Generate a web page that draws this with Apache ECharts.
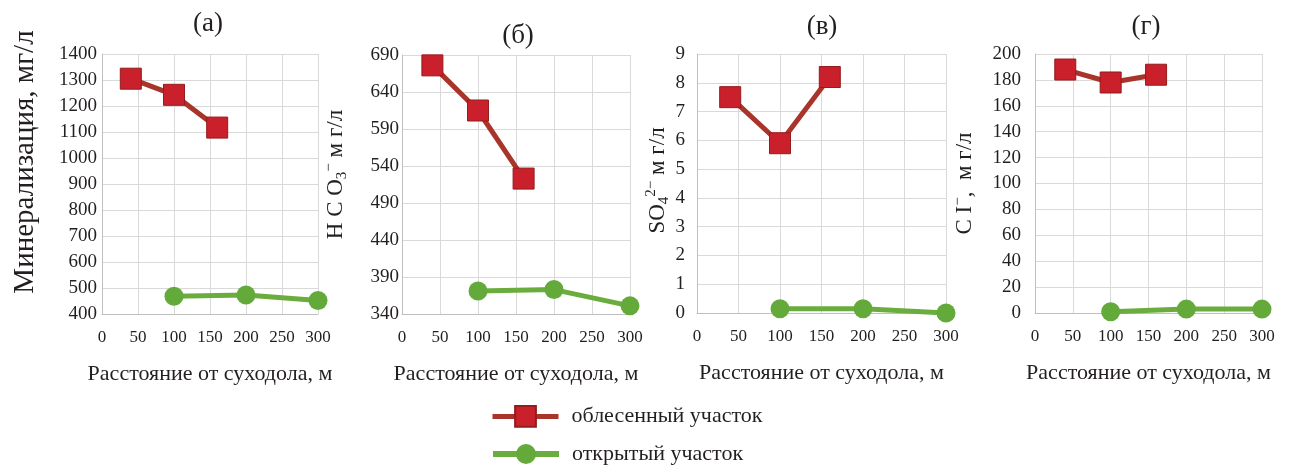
<!DOCTYPE html>
<html>
<head>
<meta charset="utf-8">
<script src="https://cdn.jsdelivr.net/npm/echarts@6/dist/echarts.min.js"></script>
<style>
  html, body { margin: 0; padding: 0; background: #ffffff; }
  #chart { width: 1295px; height: 467px; }
</style>
</head>
<body>
<div id="chart"></div>
<script>
// Distance from the dry valley (m) for each site type
const distForest = [40, 100, 160];
const distOpen = [100, 200, 300];

// (а) total mineralization, mg/l
const mineralForest = [1305, 1243, 1117];
const mineralOpen = [468, 473, 452];
// (б) HCO3-, mg/l
const hco3Forest = [676, 615, 523];
const hco3Open = [371, 373, 351];
// (в) SO4 2-, mg/l
const so4Forest = [7.5, 5.9, 8.2];
const so4Open = [0.15, 0.15, 0];
// (г) Cl-, mg/l
const clForest = [188, 178, 184];
const clOpen = [1, 3, 3];

// Tick values of the HCO3 axis
const hco3Ticks = [340, 390, 440, 490, 540, 590, 640, 690];

const panelTitles = ['(а)', '(б)', '(в)', '(г)'];
const xName = 'Расстояние от суходола, м';
const nameForest = 'облесенный участок';
const nameOpen = 'открытый участок';

const FONT = '"Liberation Serif", "Times New Roman", serif';
const INK = '#231f20';
const RED_FILL = '#c9202b';
const RED_LINE = '#a8342a';
const RED_BORDER = '#931c1c';
const GREEN_FILL = '#64aa3b';
const GREEN_LINE = '#6aad3e';

const chart = echarts.init(document.getElementById('chart'), null, { renderer: 'canvas' });

const grids = [
  { left: 102, top: 54, width: 216, height: 260 },
  { left: 402, top: 55, width: 228, height: 259 },
  { left: 697, top: 54, width: 249, height: 259 },
  { left: 1035, top: 54, width: 227, height: 259 }
];

const titlePos = [
  { x: 208, y: 10 },
  { x: 518, y: 22 },
  { x: 822, y: 13 },
  { x: 1146, y: 13 }
];

const gridLine = { show: true, lineStyle: { color: '#d9d9d9', width: 1 } };
const axisLine = { show: true, lineStyle: { color: '#bfbfbf', width: 1 } };
const plain = (v) => String(v);

const xAxes = grids.map((g, i) => ({
  type: 'value',
  gridIndex: i,
  min: 0, max: 300, interval: 50,
  name: xName,
  nameLocation: 'middle',
  nameGap: 49,
  nameTextStyle: { fontFamily: FONT, fontSize: 22, color: INK },
  axisLine: axisLine,
  axisTick: { show: false },
  splitLine: gridLine,
  axisLabel: { fontFamily: FONT, fontSize: 17, color: INK, margin: 15, formatter: plain }
}));

const yLabel = (margin) => ({ fontFamily: FONT, fontSize: 19, color: INK, margin: margin, formatter: plain });

const subRich = {
  m: { fontFamily: FONT, fontSize: 23, color: INK, lineHeight: 28 },
  sub: { fontFamily: FONT, fontSize: 15, color: INK, lineHeight: 15, verticalAlign: 'bottom' },
  sup: { fontFamily: FONT, fontSize: 15, color: INK, lineHeight: 15, verticalAlign: 'top' }
};

const yAxes = [
  {
    type: 'value', gridIndex: 0, min: 400, max: 1400, interval: 100,
    name: 'Минерализация, мг/л', nameLocation: 'middle', nameGap: 62, nameRotate: 90,
    nameTextStyle: { fontFamily: FONT, fontSize: 29, color: INK, padding: [0, 0, 0, 44] },
    axisLine: axisLine, axisTick: { show: false }, splitLine: gridLine,
    axisLabel: yLabel(5)
  },
  {
    type: 'value', gridIndex: 1, min: 340, max: 690,
    name: '{m|H C O}{sub|3}{sup|−}{m| м г/л}', nameLocation: 'middle', nameGap: 52, nameRotate: 90,
    nameTextStyle: { padding: [0, 0, 0, 20], rich: subRich },
    axisLine: axisLine,
    axisTick: { show: false, customValues: hco3Ticks },
    splitLine: gridLine,
    axisLabel: Object.assign(yLabel(3), { customValues: hco3Ticks })
  },
  {
    type: 'value', gridIndex: 2, min: 0, max: 9, interval: 1,
    name: '{m|SO}{sub|4}{sup|2−}{m| м г/л}', nameLocation: 'middle', nameGap: 20, nameRotate: 90,
    nameTextStyle: { padding: [0, 0, 0, 6], rich: subRich },
    axisLine: axisLine, axisTick: { show: false }, splitLine: gridLine,
    axisLabel: yLabel(12)
  },
  {
    type: 'value', gridIndex: 3, min: 0, max: 200, interval: 20,
    name: '{m|C I}{sup|−}{m|,  м г/л}', nameLocation: 'middle', nameGap: 56, nameRotate: 90,
    nameTextStyle: { padding: [0, 0, 0, 0], rich: subRich },
    axisLine: axisLine, axisTick: { show: false }, splitLine: gridLine,
    axisLabel: yLabel(14)
  }
];

const pairs = (xs, ys) => xs.map((x, k) => [x, ys[k]]);

const forestSets = [mineralForest, hco3Forest, so4Forest, clForest];
const openSets = [mineralOpen, hco3Open, so4Open, clOpen];

const series = [];
forestSets.forEach((vals, i) => {
  series.push({
    name: nameForest, type: 'line', xAxisIndex: i, yAxisIndex: i,
    data: pairs(distForest, vals),
    symbol: 'rect', symbolSize: 21,
    itemStyle: { color: RED_FILL, borderColor: RED_BORDER, borderWidth: 1 },
    lineStyle: { color: RED_LINE, width: 5 },
    z: 3
  });
});
openSets.forEach((vals, i) => {
  series.push({
    name: nameOpen, type: 'line', xAxisIndex: i, yAxisIndex: i,
    data: pairs(distOpen, vals),
    symbol: 'circle', symbolSize: 19,
    itemStyle: { color: GREEN_FILL, borderColor: GREEN_FILL, borderWidth: 0 },
    lineStyle: { color: GREEN_LINE, width: 5 },
    z: 2
  });
});

const legendText = { fontFamily: FONT, fontSize: 22, color: INK, padding: [0, 0, 0, 8] };

chart.setOption({
  animation: false,
  backgroundColor: '#ffffff',
  title: panelTitles.map((t, i) => ({
    text: t, left: titlePos[i].x, top: titlePos[i].y, textAlign: 'center', padding: 0,
    textStyle: { fontFamily: FONT, fontSize: 27, fontWeight: 'normal', color: INK }
  })),
  legend: [
    {
      data: [nameForest], left: 490, top: 405, padding: 0,
      itemWidth: 66, itemHeight: 26, selectedMode: false,
      lineStyle: { color: RED_LINE, width: 5 },
      textStyle: legendText
    },
    {
      data: [nameOpen], left: 490, top: 443, padding: 0,
      itemWidth: 66, itemHeight: 25, selectedMode: false,
      lineStyle: { color: GREEN_LINE, width: 6 },
      textStyle: legendText
    }
  ],
  grid: grids,
  xAxis: xAxes,
  yAxis: yAxes,
  series: series
});
</script>
</body>
</html>
